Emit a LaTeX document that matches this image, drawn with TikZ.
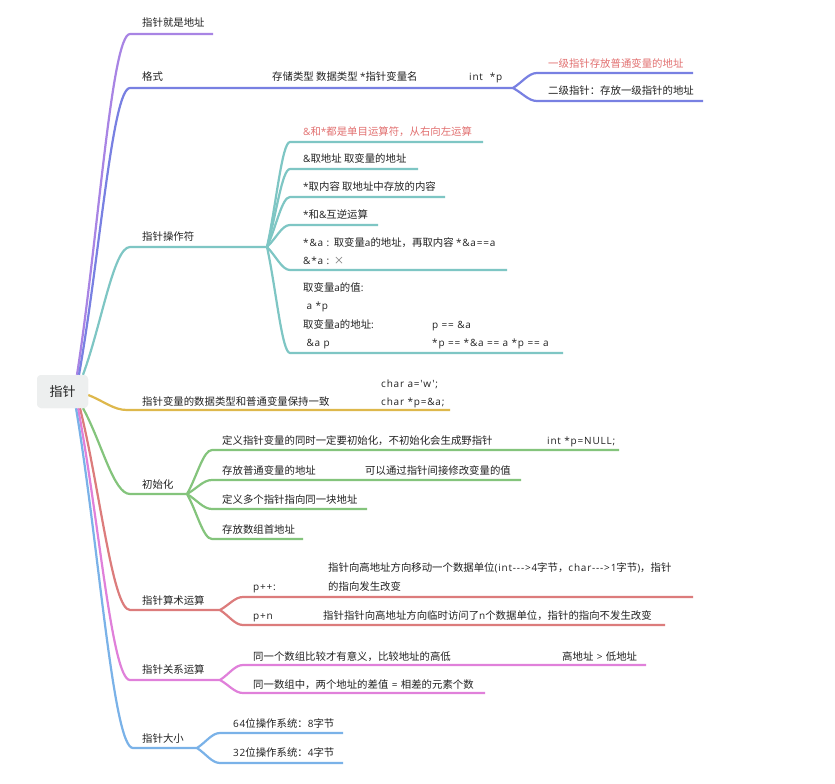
\documentclass[tikz,border=0pt]{standalone}
\usepackage{fontspec}
\newfontfamily\cjk{Noto Sans CJK SC}
\newfontfamily\latfont{Open Sans}[LetterSpace=8]
\newcommand\lt[1]{{\latfont\fontsize{10}{12}\selectfont #1}}
\usetikzlibrary{calc}
\definecolor{cPurple}{RGB}{168,132,228}
\definecolor{cViolet}{RGB}{120,128,226}
\definecolor{cTeal}{RGB}{126,198,196}
\definecolor{cGold}{RGB}{222,184,76}
\definecolor{cGreen}{RGB}{132,196,124}
\definecolor{cRed}{RGB}{220,124,124}
\definecolor{cPink}{RGB}{224,128,218}
\definecolor{cBlue}{RGB}{122,178,232}
\definecolor{cPinkText}{RGB}{226,112,112}
\definecolor{cRoot}{RGB}{237,239,239}
\definecolor{cInk}{RGB}{34,34,34}
\definecolor{cGrayText}{RGB}{120,120,120}
\begin{document}
\begin{tikzpicture}[x=1pt,y=-1pt,
  txt/.style={anchor=base west, inner sep=0pt, text=cInk, font=\cjk\fontsize{10.4}{12}\selectfont},
  hot/.style={txt, text=cPinkText},
  brline/.style={line width=2.2pt},
  curv/.style={to path={.. controls ($(\tikztostart)!0.4!(\tikztotarget)$) and ($(\tikztotarget)!0.35!(\tikztostart |- \tikztotarget)$) .. (\tikztotarget)}},
  rootbox/.style={fill=cRoot, rounded corners=4pt, minimum width=51pt, minimum height=33pt, inner sep=0pt, font=\cjk\fontsize{13}{15}\selectfont, text=cInk}
]
\useasboundingbox (0,0) rectangle (835,784);
\fill[white] (0,0) rectangle (835,784);

% root
\node[rootbox] (root) at (62.5,391.5) {指针};
\coordinate (r1) at ([xshift=14.5pt]root.north);
\coordinate (r2) at ([xshift=16.5pt]root.north);
\coordinate (r3) at ([xshift=20.5pt]root.north);
\coordinate (r4) at ([yshift=-3.5pt]root.east);
\coordinate (r5) at ([xshift=20.5pt]root.south);
\coordinate (r6) at ([xshift=17.5pt]root.south);
\coordinate (r7) at ([xshift=15.5pt]root.south);
\coordinate (r8) at ([xshift=13.5pt]root.south);

% ---------- purple
\coordinate (p1) at (130,34); \coordinate (p1e) at (213,34);
\draw[brline,cPurple] (r1) to[curv] (p1) -- (p1e);
\node[txt] (tp1) at (142,27) {指针就是地址};

% ---------- violet
\coordinate (v1) at (130,88); \coordinate (vs) at (513,88);
\coordinate (va) at (537,73); \coordinate (vae) at (693,73);
\coordinate (vb) at (537,101); \coordinate (vbe) at (703,101);
\draw[brline,cViolet] (r2) to[curv] (v1) -- (vs);
\draw[brline,cViolet] (vs) to[curv] (va) -- (vae);
\draw[brline,cViolet] (vs) to[curv] (vb) -- (vbe);
\node[txt] (tv1) at (142,81) {格式};
\node[txt] (tv2) at (272,81) {存储类型 数据类型 \lt{*}指针变量名};
\node[txt] (tv3) at (469,81) {\lt{int\ \ *p}};
\node[hot] (tva) at (548,67) {一级指针存放普通变量的地址};
\node[txt] (tvb) at (548,95) {二级指针：存放一级指针的地址};

% ---------- teal
\coordinate (t0) at (130,247); \coordinate (ts) at (267,247);
\coordinate (ta) at (290,142); \coordinate (tae) at (483,142);
\coordinate (tb) at (290,169); \coordinate (tbe) at (418,169);
\coordinate (tc) at (290,197); \coordinate (tce) at (445,197);
\coordinate (td) at (290,225); \coordinate (tde) at (378,225);
\coordinate (te) at (290,270); \coordinate (tee) at (507,270);
\coordinate (tf) at (290,353); \coordinate (tfe) at (563,353);
\draw[brline,cTeal] (r3) to[curv] (t0) -- (ts);
\foreach \c in {ta,tb,tc,td,te,tf}{
  \draw[brline,cTeal] (ts) to[curv] (\c) -- (\c e);
}
\node[txt] (tt0) at (142,240) {指针操作符};
\node[hot] (tta) at (303,135) {\lt{\&}和\lt{*}都是单目运算符，从右向左运算};
\node[txt] (ttb) at (303,162) {\lt{\&}取地址 取变量的地址};
\node[txt] (ttc) at (303,190) {\lt{*}取内容 取地址中存放的内容};
\node[txt] (ttd) at (303,218) {\lt{*}和\lt{\&}互逆运算};
\node[txt] (tte1) at (303,246) {\lt{*\&a : }取变量\lt{a}的地址，再取内容 \lt{*\&a==a}};
\node[txt] (tte2) at (303,264) {\lt{\&*a : }\textcolor{cGrayText}{×}};
\node[txt] (ttf1) at (303,291) {取变量\lt{a}的值\lt{:}};
\node[txt] (ttf2) at (303,309) {\lt{\ a *p}};
\node[txt] (ttf3) at (303,328) {取变量\lt{a}的地址\lt{:}};
\node[txt] (ttf4) at (432,328) {\lt{p == \&a}};
\node[txt] (ttf5) at (303,346) {\lt{\ \&a p}};
\node[txt] (ttf6) at (432,346) {\lt{*p == *\&a == a *p == a}};

% ---------- gold
\coordinate (g1) at (127,410); \coordinate (g1e) at (450,410);
\draw[brline,cGold] (r4) to[curv] (g1) -- (g1e);
\node[txt] (tg1) at (142,405) {指针变量的数据类型和普通变量保持一致};
\node[txt] (tg2) at (381,387) {\lt{char a='w';}};
\node[txt] (tg3) at (381,405) {\lt{char *p=\&a;}};

% ---------- green
\coordinate (n0) at (130,494); \coordinate (ns) at (187,494);
\coordinate (na) at (212,450); \coordinate (nae) at (619,450);
\coordinate (nb) at (212,480); \coordinate (nbe) at (521,480);
\coordinate (nc) at (212,509); \coordinate (nce) at (367,509);
\coordinate (nd) at (212,539); \coordinate (nde) at (303,539);
\draw[brline,cGreen] (r5) to[curv] (n0) -- (ns);
\foreach \c in {na,nb,nc,nd}{
  \draw[brline,cGreen] (ns) to[curv] (\c) -- (\c e);
}
\node[txt] (tn0) at (142,488) {初始化};
\node[txt] (tna) at (222,444) {定义指针变量的同时一定要初始化，不初始化会生成野指针};
\node[txt] (tna2) at (547,444) {\lt{int *p=NULL;}};
\node[txt] (tnb) at (222,474) {存放普通变量的地址};
\node[txt] (tnb2) at (365,474) {可以通过指针间接修改变量的值};
\node[txt] (tnc) at (222,503) {定义多个指针指向同一块地址};
\node[txt] (tnd) at (222,533) {存放数组首地址};

% ---------- red
\coordinate (d0) at (130,610); \coordinate (ds) at (220,610);
\coordinate (da) at (243,597); \coordinate (dae) at (693,597);
\coordinate (db) at (243,625); \coordinate (dbe) at (665,625);
\draw[brline,cRed] (r6) to[curv] (d0) -- (ds);
\foreach \c in {da,db}{
  \draw[brline,cRed] (ds) to[curv] (\c) -- (\c e);
}
\node[txt] (td0) at (142,604) {指针算术运算};
\node[txt] (tda) at (253,590) {\lt{p++:}};
\node[txt] (tda2) at (328,571) {指针向高地址方向移动一个数据单位\lt{(int--->4}字节，\lt{char--->1}字节\lt{)}，指针};
\node[txt] (tda3) at (328,590) {的指向发生改变};
\node[txt] (tdb) at (253,619) {\lt{p+n}};
\node[txt] (tdb2) at (323,619) {指针指针向高地址方向临时访问了\lt{n}个数据单位，指针的指向不发生改变};

% ---------- pink
\coordinate (k0) at (130,680); \coordinate (ks) at (220,680);
\coordinate (ka) at (243,665); \coordinate (kae) at (646,665);
\coordinate (kb) at (243,693); \coordinate (kbe) at (485,693);
\draw[brline,cPink] (r7) to[curv] (k0) -- (ks);
\foreach \c in {ka,kb}{
  \draw[brline,cPink] (ks) to[curv] (\c) -- (\c e);
}
\node[txt] (tk0) at (142,673) {指针关系运算};
\node[txt] (tka) at (253,660) {同一个数组比较才有意义，比较地址的高低};
\node[txt] (tka2) at (562,660) {高地址\lt{ > }低地址};
\node[txt] (tkb) at (253,688) {同一数组中，两个地址的差值\lt{ = }相差的元素个数};

% ---------- blue
\coordinate (b0) at (133,748); \coordinate (bs) at (197,748);
\coordinate (ba) at (220,733); \coordinate (bae) at (343,733);
\coordinate (bb) at (220,763); \coordinate (bbe) at (343,763);
\draw[brline,cBlue] (r8) to[curv] (b0) -- (bs);
\foreach \c in {ba,bb}{
  \draw[brline,cBlue] (bs) to[curv] (\c) -- (\c e);
}
\node[txt] (tb0) at (142,742) {指针大小};
\node[txt] (tba) at (233,727) {\lt{64}位操作系统：\lt{8}字节};
\node[txt] (tbb) at (233,756) {\lt{32}位操作系统：\lt{4}字节};

% redraw root on top
\node[rootbox] (rootTop) at (root.center) {指针};
\end{tikzpicture}
\end{document}
